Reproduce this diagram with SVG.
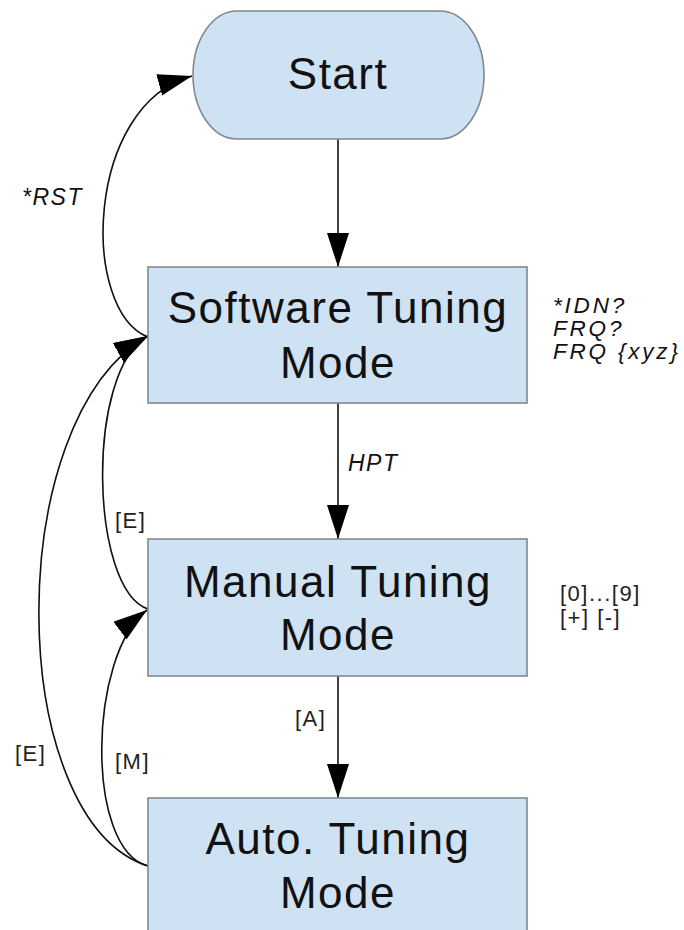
<svg xmlns="http://www.w3.org/2000/svg" width="684" height="930" viewBox="0 0 684 930">
  <style>
    .node { fill: #cfe2f3; stroke: #808890; stroke-width: 1.6; }
    .title { font-family: "Liberation Sans", Arial, sans-serif; font-size: 44px; letter-spacing: 1.5px; fill: #111; text-anchor: middle; }
    .edge { fill: none; stroke: #111; stroke-width: 1.6; }
    .cmd { font-family: "Liberation Sans", Arial, sans-serif; font-style: italic; fill: #111; }
    .key { font-family: "Liberation Sans", Arial, sans-serif; font-size: 22px; letter-spacing: 1.5px; fill: #222; }
  </style>
  <defs>
    <marker id="arrow" markerUnits="userSpaceOnUse" markerWidth="36" markerHeight="24" refX="34" refY="11" orient="auto">
      <path d="M0,0 L34,11 L0,22 z" fill="#000"/>
    </marker>
  </defs>
  <rect width="684" height="930" fill="#fff"/>

  <!-- connectors -->
  <g id="connectors">
    <line class="edge" x1="338" y1="139" x2="338" y2="267" marker-end="url(#arrow)"/>
    <line class="edge" x1="338" y1="403" x2="338" y2="539" marker-end="url(#arrow)"/>
    <line class="edge" x1="338" y1="676" x2="338" y2="798" marker-end="url(#arrow)"/>
    <!-- *RST: software mode back to start -->
    <path class="edge" d="M148,337 C80,310 85,105 192,76" marker-end="url(#arrow)"/>
    <!-- [E]: manual mode back to software mode -->
    <path class="edge" d="M148,609 C90,590 85,371 148,336" marker-end="url(#arrow)"/>
    <!-- [E]: auto mode back to software mode -->
    <path class="edge" d="M148,866 C5,820 0,420 148,336" marker-end="url(#arrow)"/>
    <!-- [M]: auto mode back to manual mode -->
    <path class="edge" d="M148,866 C85,850 88,655 147,610" marker-end="url(#arrow)"/>
  </g>

  <!-- connector labels -->
  <g id="edge-labels">
    <text class="cmd" x="22" y="205" font-size="23" letter-spacing="1.5">*RST</text>
    <text class="cmd" x="348" y="471" font-size="23" letter-spacing="1.5">HPT</text>
    <text class="key" x="115" y="528">[E]</text>
    <text class="key" x="15" y="761">[E]</text>
    <text class="key" x="115" y="769">[M]</text>
    <text class="key" x="295" y="726">[A]</text>
  </g>

  <g id="start">
    <rect class="node" x="193" y="11" width="291" height="128" rx="44" ry="64"/>
    <text class="title" x="338" y="89">Start</text>
  </g>

  <g id="software-tuning">
    <rect class="node" x="148" y="267" width="379" height="136"/>
    <text class="title" x="338" y="323">Software Tuning</text>
    <text class="title" x="338" y="378">Mode</text>
    <text class="cmd" font-size="22.5" letter-spacing="2.8">
      <tspan x="553" y="313">*IDN?</tspan>
      <tspan x="553" y="336">FRQ?</tspan>
      <tspan x="553" y="359">FRQ {xyz}</tspan>
    </text>
  </g>

  <g id="manual-tuning">
    <rect class="node" x="148" y="539" width="379" height="137"/>
    <text class="title" x="338" y="597">Manual Tuning</text>
    <text class="title" x="338" y="650">Mode</text>
    <text class="key">
      <tspan x="560" y="601">[0]...[9]</tspan>
      <tspan x="560" y="625">[+] [-]</tspan>
    </text>
  </g>

  <g id="auto-tuning">
    <rect class="node" x="148" y="798" width="379" height="142"/>
    <text class="title" x="338" y="854">Auto. Tuning</text>
    <text class="title" x="338" y="908">Mode</text>
  </g>
</svg>
